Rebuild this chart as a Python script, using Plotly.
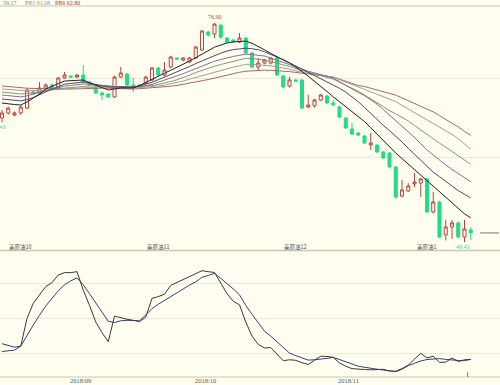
import plotly.graph_objects as go
import pandas as pd

# ---------------- data ----------------
dates = pd.bdate_range("2018-08-15", periods=76)
idx = list(range(76))

opens = [64.98, 65.61, 65.36, 65.61, 66.23, 68.24, 68.12, 68.74, 69.12, 68.74,
         70.00, 70.25, 70.12, 70.38, 69.50, 68.87, 68.12, 67.99, 67.62, 70.12,
         70.50, 69.12, 69.12, 69.37, 69.75, 71.25, 70.38, 71.38, 72.51, 72.26,
         72.01, 72.51, 73.51, 75.77, 75.52, 76.65, 75.02, 74.77, 74.52, 75.02,
         73.14, 71.38, 71.88, 71.88, 72.51, 70.25, 68.99, 69.75, 69.75, 66.36,
         66.49, 67.24, 67.74, 66.86, 66.36, 64.98, 63.60, 63.10, 62.72, 61.59,
         61.59, 60.71, 60.59, 58.83, 55.19, 55.82, 56.70, 56.82, 57.33, 53.19,
         54.44, 50.30, 51.30, 51.81, 50.04, 50.93]
highs = [65.98, 66.40, 65.80, 66.60, 68.70, 68.40, 69.50, 69.30, 69.30, 70.10,
         70.75, 70.40, 70.50, 71.63, 69.60, 69.00, 68.30, 68.10, 70.30, 71.38,
         70.60, 70.00, 69.20, 70.30, 71.40, 71.40, 72.01, 72.80, 72.60, 72.60,
         72.63, 74.00, 76.00, 75.90, 76.90, 76.70, 75.10, 74.90, 75.65, 75.10,
         73.30, 72.51, 72.40, 72.60, 72.70, 70.40, 70.12, 69.85, 69.85, 67.87,
         67.40, 68.00, 67.90, 67.24, 66.50, 65.10, 64.35, 63.20, 62.85, 63.10,
         61.70, 60.85, 60.70, 58.95, 57.20, 56.80, 58.10, 57.45, 57.45, 55.70,
         54.60, 52.20, 52.20, 52.00, 52.20, 51.30]
lows = [64.43, 65.40, 65.20, 65.40, 66.10, 67.90, 68.00, 68.60, 68.60, 68.60,
        69.90, 70.00, 70.00, 69.30, 69.00, 68.00, 67.24, 67.50, 67.50, 70.00,
        69.00, 68.24, 68.70, 69.20, 69.60, 70.20, 70.20, 71.20, 72.30, 72.10,
        71.90, 72.40, 73.40, 75.20, 75.00, 74.90, 74.40, 74.40, 74.40, 73.00,
        71.20, 71.00, 71.70, 71.70, 70.20, 68.70, 68.80, 69.50, 66.10, 66.20,
        66.30, 67.10, 66.70, 66.50, 65.00, 63.60, 62.85, 62.70, 61.70, 60.97,
        60.60, 59.80, 58.70, 54.80, 55.00, 55.70, 56.30, 55.07, 53.00, 53.00,
        49.90, 49.60, 49.80, 49.90, 49.41, 49.67]
closes = [65.61, 66.23, 65.61, 66.36, 68.49, 67.99, 68.74, 69.12, 68.74, 70.00,
          70.38, 70.12, 70.38, 69.50, 69.12, 68.12, 67.87, 67.62, 70.12, 70.63,
          69.12, 68.99, 68.87, 70.12, 71.25, 70.38, 71.00, 72.63, 72.38, 72.51,
          72.51, 73.89, 75.90, 75.39, 76.77, 75.14, 74.52, 74.52, 75.02, 73.14,
          71.38, 71.88, 72.26, 72.51, 70.38, 68.87, 69.75, 69.62, 66.23, 66.61,
          67.24, 67.87, 66.86, 66.61, 65.11, 63.73, 62.97, 62.85, 61.84, 61.84,
          60.71, 59.96, 58.83, 55.07, 55.95, 56.45, 56.95, 57.33, 53.19, 54.44,
          50.04, 51.30, 51.81, 50.04, 51.05, 50.55]

pb1 = [66.86, 66.74, 66.67, 66.61, 66.99, 67.49, 67.96, 68.62, 68.99, 69.30,
       69.62, 69.66, 69.71, 69.75, 69.41, 69.08, 68.78, 68.49, 68.63, 68.75,
       68.75, 68.75, 69.05, 69.46, 69.86, 70.23, 70.60, 70.97, 71.33, 71.72,
       72.13, 72.55, 72.99, 73.42, 73.87, 74.13, 74.39, 74.54, 74.58, 74.63,
       74.36, 74.00, 73.54, 73.09, 72.64, 72.26, 71.88, 71.38, 70.82, 70.21,
       69.61, 68.97, 68.31, 67.64, 67.00, 66.40, 65.78, 65.16, 64.53, 63.76,
       62.97, 62.13, 61.28, 60.58, 59.89, 59.20, 58.51, 57.83, 57.14, 56.46,
       55.77, 55.05, 54.33, 53.60, 52.95, 52.46]
pb2 = [67.37, 67.29, 67.20, 67.13, 67.30, 67.55, 67.90, 68.29, 68.61, 68.92,
       69.22, 69.32, 69.41, 69.50, 69.36, 69.22, 69.05, 68.87, 68.87, 68.87,
       68.87, 68.87, 69.02, 69.24, 69.47, 69.79, 70.10, 70.42, 70.73, 71.07,
       71.44, 71.81, 72.16, 72.51, 72.86, 73.13, 73.39, 73.57, 73.65, 73.75,
       73.67, 73.55, 73.29, 72.98, 72.66, 72.31, 71.91, 71.52, 71.12, 70.70,
       70.29, 69.89, 69.50, 69.11, 68.71, 68.23, 67.63, 67.03, 66.30, 65.51,
       64.73, 64.06, 63.40, 62.73, 61.97, 61.18, 60.40, 59.62, 58.83, 58.17,
       57.61, 57.03, 56.42, 55.86, 55.41, 54.95]
pb3 = [67.87, 67.79, 67.70, 67.63, 67.77, 67.96, 68.14, 68.33, 68.55, 68.76,
       68.98, 69.07, 69.16, 69.25, 69.20, 69.16, 69.10, 69.02, 68.93, 68.87,
       68.87, 68.87, 68.95, 69.05, 69.21, 69.47, 69.72, 69.99, 70.25, 70.54,
       70.87, 71.19, 71.49, 71.81, 72.11, 72.32, 72.54, 72.71, 72.85, 72.99,
       72.94, 72.85, 72.76, 72.51, 72.23, 71.96, 71.66, 71.34, 71.07, 70.85,
       70.64, 70.43, 70.21, 69.99, 69.54, 69.07, 68.61, 68.19, 67.78, 67.26,
       66.74, 66.05, 65.37, 64.68, 63.99, 63.30, 62.53, 61.75, 60.97, 60.33,
       59.68, 59.08, 58.53, 57.98, 57.48, 56.97]
pb4 = [68.24, 68.17, 68.08, 68.00, 68.07, 68.16, 68.26, 68.35, 68.47, 68.61,
       68.73, 68.82, 68.91, 69.00, 69.00, 69.00, 68.98, 68.95, 68.91, 68.87,
       68.87, 68.87, 68.91, 68.96, 69.05, 69.20, 69.36, 69.56, 69.78, 70.04,
       70.36, 70.69, 70.97, 71.22, 71.48, 71.70, 71.91, 72.11, 72.29, 72.47,
       72.44, 72.35, 72.27, 72.08, 71.88, 71.68, 71.44, 71.18, 70.94, 70.72,
       70.50, 70.29, 70.08, 69.86, 69.49, 69.11, 68.72, 68.34, 67.88, 67.37,
       66.85, 66.35, 65.92, 65.50, 65.07, 64.62, 64.04, 63.46, 62.87, 62.33,
       61.82, 61.32, 60.80, 60.32, 59.70, 59.17]
pb5 = [68.62, 68.55, 68.46, 68.38, 68.39, 68.43, 68.46, 68.49, 68.53, 68.57,
       68.62, 68.66, 68.71, 68.75, 68.80, 68.84, 68.86, 68.82, 68.78, 68.75,
       68.75, 68.75, 68.78, 68.83, 68.91, 69.01, 69.11, 69.27, 69.42, 69.62,
       69.85, 70.08, 70.30, 70.52, 70.74, 70.94, 71.16, 71.36, 71.53, 71.72,
       71.72, 71.68, 71.64, 71.52, 71.41, 71.29, 71.11, 70.89, 70.72, 70.60,
       70.48, 70.35, 70.24, 70.11, 69.80, 69.49, 69.16, 68.85, 68.55, 68.26,
       67.97, 67.69, 67.40, 67.04, 66.57, 66.12, 65.66, 65.19, 64.73, 64.29,
       63.84, 63.40, 62.92, 62.36, 61.70, 61.08]
pb6 = [69.00, 68.92, 68.83, 68.76, 68.72, 68.69, 68.66, 68.63, 68.62, 68.62,
       68.62, 68.62, 68.62, 68.62, 68.67, 68.71, 68.73, 68.70, 68.66, 68.62,
       68.62, 68.62, 68.66, 68.71, 68.76, 68.82, 68.87, 68.97, 69.07, 69.20,
       69.34, 69.47, 69.64, 69.81, 69.99, 70.19, 70.40, 70.58, 70.72, 70.85,
       70.92, 70.95, 70.99, 70.97, 70.93, 70.89, 70.80, 70.70, 70.60, 70.50,
       70.40, 70.31, 70.21, 70.11, 69.86, 69.60, 69.34, 69.07, 68.93, 68.72,
       68.51, 68.29, 68.07, 67.85, 67.50, 67.16, 66.83, 66.49, 66.15, 65.75,
       65.28, 64.82, 64.34, 63.85, 63.30, 62.80]

k_line = [28.6, 27.0, 25.6, 26.5, 50.0, 62.8, 70.0, 77.0, 80.3, 86.8,
          88.8, 88.8, 89.6, 74.0, 61.0, 47.0, 38.0, 30.3, 52.0, 50.5,
          49.3, 48.4, 47.3, 51.0, 67.0, 68.5, 70.5, 78.0, 80.5, 83.0,
          85.2, 88.0, 90.4, 89.6, 88.9, 80.0, 71.0, 64.5, 61.5, 47.0,
          35.0, 28.0, 25.0, 25.3, 20.0, 14.2, 15.0, 14.5, 12.5, 11.0,
          14.5, 18.0, 17.8, 17.0, 12.3, 9.5, 7.5, 6.9, 6.7, 6.5,
          6.7, 6.9, 5.5, 5.3, 7.5, 10.5, 15.5, 20.5, 16.5, 18.0,
          12.8, 13.0, 16.5, 13.5, 15.0, 15.3]
d_line = [22.0, 22.5, 23.2, 26.5, 36.0, 44.4, 52.8, 60.5, 67.0, 73.4,
          78.4, 81.8, 84.3, 78.5, 71.0, 63.0, 54.5, 47.6, 46.5, 48.0,
          48.4, 48.3, 48.0, 53.0, 58.3, 62.0, 65.3, 68.6, 71.5, 75.0,
          78.2, 81.0, 84.8, 86.4, 88.1, 84.0, 79.7, 75.0, 70.0, 61.0,
          53.5, 46.0, 39.2, 35.0, 30.3, 25.6, 20.6, 18.5, 16.3, 14.7,
          15.0, 15.3, 16.2, 17.0, 15.3, 13.5, 11.5, 9.5, 8.5, 7.7,
          7.0, 6.3, 5.6, 4.9, 7.0, 10.0, 12.0, 14.0, 15.2, 15.8,
          16.0, 15.3, 14.7, 14.4, 14.2, 15.3]

roll_idx = [3, 25, 47, 68]
roll_labels = ["美原油10", "美原油11", "美原油12", "美原油1"]

# ---------------- styling ----------------
BG = "#fffef0"
UP = "#b5473a"
DOWN = "#22dc86"
PB_COLORS = ["#222222", "#4a4a6e", "#8d6a9e", "#7f9c6c", "#a89a9e", "#a86a5a"]
GRID = "#ecebd6"
BORDER = "#c8c8b4"
CJK = "Noto Sans CJK SC"
SERIF = "Liberation Serif"

fig = go.Figure()

for vals, col in zip([pb6, pb5, pb4, pb3, pb2, pb1], PB_COLORS[::-1]):
    fig.add_trace(go.Scatter(x=idx, y=vals, mode="lines",
                             line=dict(color=col, width=1),
                             hoverinfo="skip", xaxis="x", yaxis="y"))

fig.add_trace(go.Candlestick(
    x=idx, open=opens, high=highs, low=lows, close=closes,
    increasing=dict(line=dict(color=UP, width=1), fillcolor=BG),
    decreasing=dict(line=dict(color=DOWN, width=1), fillcolor=DOWN),
    whiskerwidth=0, xaxis="x", yaxis="y"))

fig.add_trace(go.Scatter(x=idx, y=d_line, mode="lines",
                         line=dict(color="#3c3c80", width=1),
                         xaxis="x2", yaxis="y2"))
fig.add_trace(go.Scatter(x=idx, y=k_line, mode="lines",
                         line=dict(color="#3a3a3a", width=1),
                         xaxis="x2", yaxis="y2"))

# month boundary ticks
tick_pos, tick_txt = [], []
for i in range(1, len(dates)):
    if dates[i].month != dates[i - 1].month:
        tick_pos.append(i - 0.5)
        tick_txt.append(dates[i].strftime("%Y/%m"))

XR = [-0.32, 79.68]
H = 385.0

def py(px):
    return 1 - px / H

annotations = []
for p, t in zip(tick_pos, tick_txt):
    annotations.append(dict(x=p, y=py(380.5), xref="x2", yref="paper", text=t,
                            showarrow=False, xanchor="center", yanchor="middle",
                            font=dict(size=6.5, color="#555555", family=SERIF)))
for p, t in zip(roll_idx, roll_labels):
    annotations.append(dict(x=p, y=py(246.5), xref="x", yref="paper", text=t,
                            showarrow=False, xanchor="center", yanchor="middle",
                            font=dict(size=5.5, color="#555555", family=CJK)))

hi_i = highs.index(max(highs))
lo_i = lows.index(min(lows))
annotations += [
    dict(x=hi_i, y=highs[hi_i], xref="x", yref="y", text=f"{highs[hi_i]:.2f}",
         showarrow=False, yanchor="bottom", yshift=1,
         font=dict(size=6, color=UP, family=SERIF)),
    dict(x=lo_i - 0.2, y=lows[lo_i], xref="x", yref="y", text=f"{lows[lo_i]:.2f}",
         showarrow=False, yanchor="top", yshift=0,
         font=dict(size=6, color=DOWN, family=SERIF)),
    dict(x=0.9, y=lows[0], xref="x", yref="y", text=f"{lows[0]:.2f}",
         showarrow=False, xanchor="right", yanchor="top",
         font=dict(size=6, color=DOWN, family=SERIF)),
    dict(x=1 / 500, y=py(3.5), xref="paper", yref="paper", text=f"{pb4[-1]:.2f}",
         showarrow=False, xanchor="left", yanchor="middle",
         font=dict(size=6, color="#6f9a4a", family=SERIF)),
    dict(x=23 / 500, y=py(3.5), xref="paper", yref="paper", text=f"PB5 {pb5[-1]:.2f}",
         showarrow=False, xanchor="left", yanchor="middle",
         font=dict(size=6, color="#999999", family=SERIF)),
    dict(x=53 / 500, y=py(3.5), xref="paper", yref="paper", text=f"PB6 {pb6[-1]:.2f}",
         showarrow=False, xanchor="left", yanchor="middle",
         font=dict(size=6, color="#b04040", family=SERIF)),
]

shapes = [
    dict(type="line", xref="paper", yref="paper", x0=0, x1=1, y0=py(6), y1=py(6),
         line=dict(color=BORDER, width=1)),
    dict(type="line", xref="paper", yref="paper", x0=0, x1=1, y0=py(250.5), y1=py(250.5),
         line=dict(color=BORDER, width=1.5)),
    dict(type="line", xref="paper", yref="paper", x0=0, x1=1, y0=py(377), y1=py(377),
         line=dict(color=BORDER, width=1)),
    dict(type="line", xref="x", yref="y", x0=76.5, x1=79.5, y0=closes[-1], y1=closes[-1],
         line=dict(color="#777777", width=1)),
    dict(type="line", xref="x2", yref="y2", x0=74.5, x1=74.5, y0=0.4, y1=4.5,
         line=dict(color="#777777", width=1)),
]

fig.update_layout(
    width=500, height=385,
    margin=dict(l=0, r=0, t=0, b=0, autoexpand=False),
    paper_bgcolor=BG, plot_bgcolor=BG,
    showlegend=False,
    xaxis=dict(domain=[0, 1], range=XR, anchor="y", showgrid=False, zeroline=False,
               showticklabels=False, showline=False, rangeslider=dict(visible=False),
               fixedrange=True),
    yaxis=dict(domain=[py(250), py(6)], range=[48.41, 79.04], tickvals=[60, 70],
               showgrid=True, gridcolor=GRID, gridwidth=1, zeroline=False,
               showticklabels=False, showline=False),
    xaxis2=dict(domain=[0, 1], range=XR, anchor="y2", showgrid=False, zeroline=False,
                showticklabels=False, showline=False),
    yaxis2=dict(domain=[py(377), py(251)], range=[0.4, 107.1], tickvals=[20, 50, 80],
                showgrid=True, gridcolor=GRID, gridwidth=1, zeroline=False,
                showticklabels=False, showline=False),
    annotations=annotations,
    shapes=shapes,
)

fig.write_html(
    "out.html",
    config={"displayModeBar": False},
    post_script="document.body.style.margin='0';document.body.style.background='" + BG + "';",
)
